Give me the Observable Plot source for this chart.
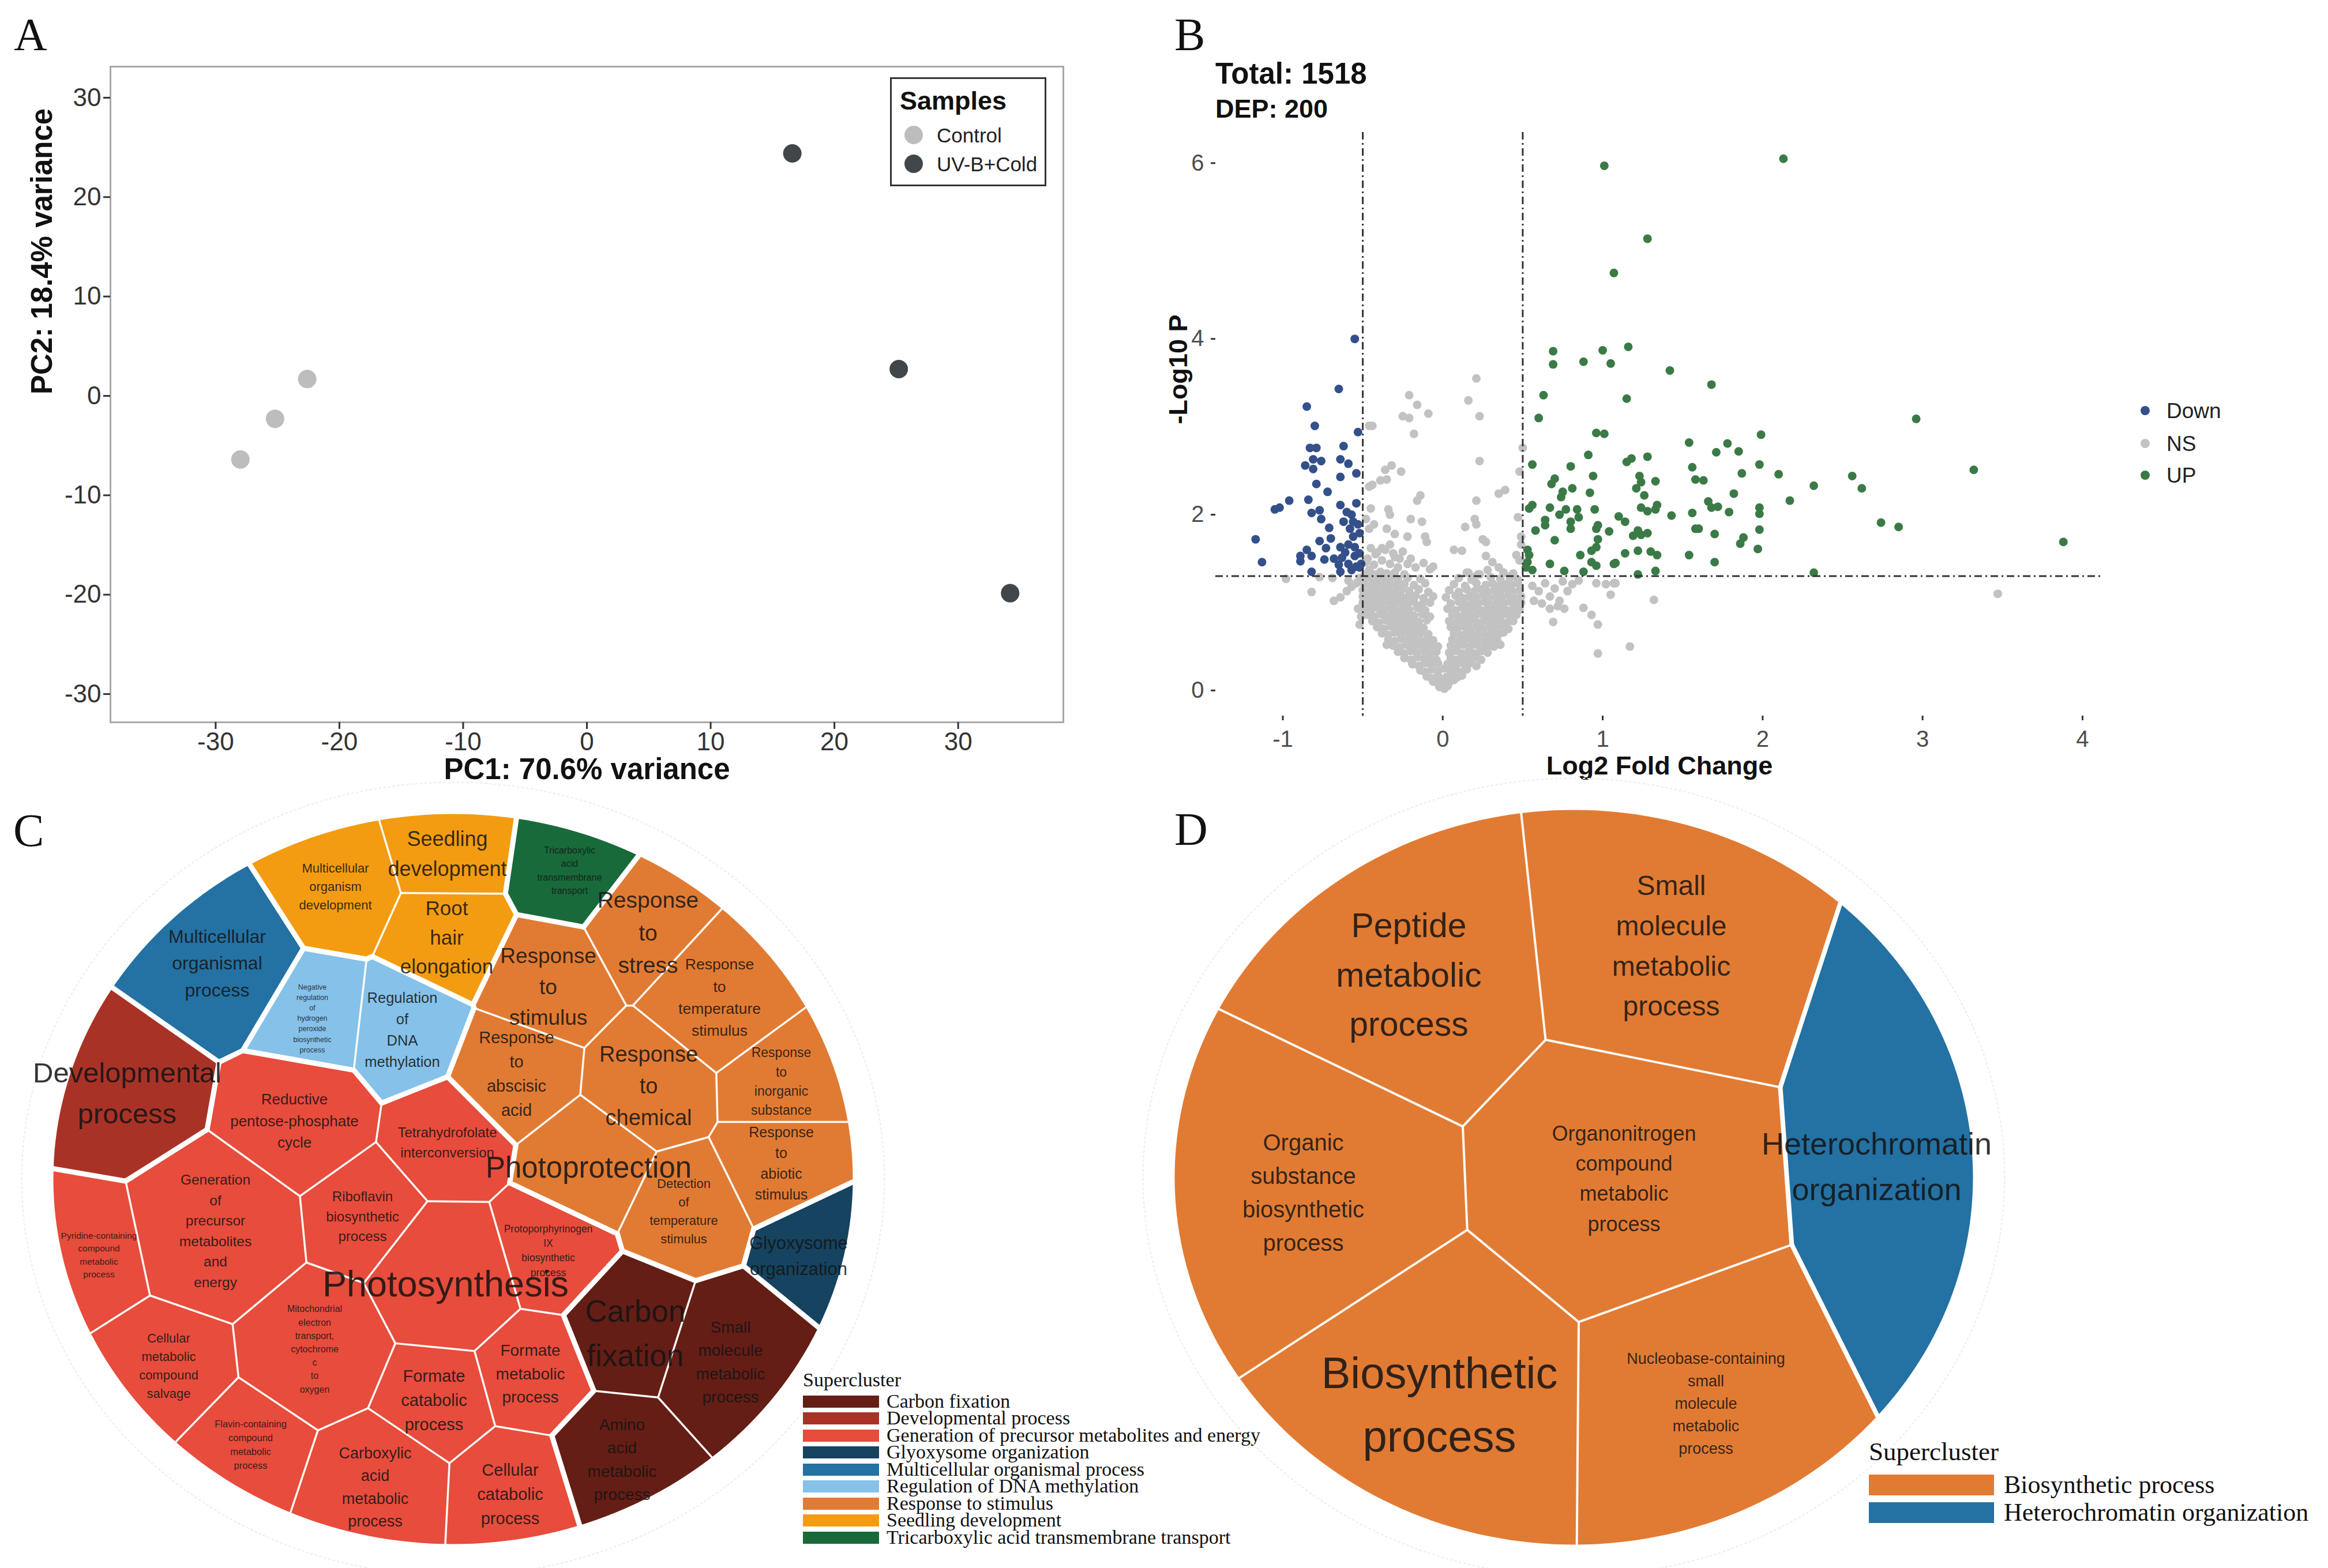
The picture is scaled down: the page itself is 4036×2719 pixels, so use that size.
<!DOCTYPE html>
<html><head><meta charset="utf-8">
<script src="https://cdn.jsdelivr.net/npm/d3@7"></script>
<script src="https://cdn.jsdelivr.net/npm/@observablehq/plot@0.6"></script>
<style>
html,body{margin:0;padding:0;background:#fff;}
#fig{position:relative;width:4036px;height:2719px;overflow:hidden;background:#fff;font-family:"Liberation Sans",Arial,sans-serif;}
.abs{position:absolute;white-space:nowrap;line-height:1;}
.serif{font-family:"Liberation Serif","Times New Roman",serif;}
.panel{position:absolute;}
</style></head><body><div id="fig"></div>
<script>
// ================= DATA =================
// Panel A: PCA
const pcaGroup = ["Control","Control","Control","UV-B+Cold","UV-B+Cold","UV-B+Cold"];
const pc1 = [-28.0,-25.2,-22.6,16.6,25.2,34.2];
const pc2 = [-6.4,-2.3,1.7,24.4,2.7,-19.85];
const sampleNames = ["Control","UV-B+Cold"];
const sampleColors = ["#bdbdbd","#41464b"];
const pcaXTicks = [-30,-20,-10,0,10,20,30];
const pcaYTicks = [-30,-20,-10,0,10,20,30];
const pcaXLabel = "PC1: 70.6% variance";
const pcaYLabel = "PC2: 18.4% variance";

// Panel B: volcano  [log2FC, -log10 P]
const downPts = [[-0.55,4.00],[-0.65,3.43],[-0.85,3.23],[-0.80,3.01],[-0.53,2.94],[-0.83,2.76],[-0.79,2.76],[-0.62,2.78],[-0.86,2.56],[-0.81,2.63],[-0.76,2.61],[-0.81,2.52],[-0.64,2.63],[-0.59,2.58],[-0.54,2.47],[-0.64,2.43],[-0.79,2.35],[-0.72,2.26],[-0.96,2.16],[-0.84,2.17],[-1.02,2.08],[-1.05,2.06],[-0.64,2.11],[-0.54,2.13],[-0.82,2.02],[-0.77,2.05],[-0.60,2.03],[-0.57,2.00],[-0.76,1.95],[-0.71,1.85],[-0.62,1.92],[-0.56,1.92],[-0.53,1.89],[-1.17,1.72],[-0.77,1.70],[-0.70,1.73],[-0.58,1.84],[-0.56,1.75],[-0.52,1.79],[-0.73,1.62],[-0.64,1.63],[-0.59,1.66],[-0.85,1.60],[-0.89,1.53],[-0.82,1.53],[-0.89,1.47],[-1.13,1.46],[-0.74,1.49],[-0.68,1.50],[-0.63,1.51],[-0.55,1.53],[-0.52,1.56],[-0.65,1.43],[-0.59,1.44],[-0.54,1.41],[-0.82,1.35],[-0.64,1.35],[-0.57,1.37],[-0.52,1.40],[-0.51,1.44],[-0.61,1.57],[-0.55,1.63]];
const upPts = [[0.69,3.86],[0.69,3.71],[0.88,3.74],[1.00,3.87],[1.05,3.72],[0.63,3.36],[0.60,3.10],[0.96,2.93],[1.01,2.92],[0.91,2.68],[0.56,2.57],[0.80,2.55],[0.94,2.44],[0.70,2.41],[0.68,2.35],[0.81,2.30],[0.75,2.26],[0.92,2.25],[0.74,2.20],[0.56,2.11],[0.54,2.07],[0.67,2.08],[0.77,2.06],[0.73,2.00],[0.84,2.06],[0.95,2.06],[0.64,1.94],[0.80,1.92],[0.85,1.97],[0.64,1.88],[0.80,1.84],[0.97,1.88],[0.96,1.84],[1.04,1.81],[0.58,1.82],[0.70,1.71],[0.97,1.72],[0.96,1.63],[0.93,1.59],[0.53,1.60],[0.54,1.54],[0.86,1.54],[0.53,1.46],[0.67,1.44],[0.93,1.46],[0.96,1.42],[1.07,1.44],[0.56,1.37],[0.76,1.36],[0.88,1.35],[0.52,1.40],
[1.16,3.91],[1.42,3.64],[1.68,3.48],[1.15,3.32],[2.96,3.09],[1.99,2.91],[1.54,2.82],[1.78,2.81],[1.71,2.71],[1.85,2.72],[1.28,2.66],[1.15,2.60],[1.18,2.64],[1.98,2.57],[1.56,2.54],[1.87,2.47],[2.10,2.46],[3.32,2.51],[2.56,2.44],[1.23,2.44],[1.33,2.38],[1.58,2.40],[1.63,2.39],[1.24,2.37],[1.21,2.30],[2.32,2.33],[2.62,2.30],[1.26,2.22],[1.82,2.24],[2.17,2.16],[1.66,2.15],[1.24,2.08],[1.34,2.11],[1.28,2.04],[1.33,2.06],[1.68,2.08],[1.72,2.09],[1.98,2.08],[1.98,2.01],[1.43,1.99],[1.56,2.02],[1.79,2.03],[1.10,1.98],[1.14,1.92],[2.74,1.91],[2.85,1.86],[1.58,1.84],[1.60,1.84],[1.98,1.83],[1.22,1.82],[1.28,1.79],[1.19,1.76],[1.24,1.77],[1.70,1.78],[1.88,1.74],[1.86,1.67],[1.97,1.61],[1.14,1.56],[1.22,1.59],[1.30,1.58],[1.34,1.54],[1.54,1.54],[1.70,1.46],[1.08,1.45],[1.22,1.32],[1.33,1.36],[2.32,1.34],
[1.01,5.97],[2.13,6.05],[1.28,5.14],[1.07,4.75],[3.88,1.69]];
const nsPts = [[0.21,3.55],[-0.21,3.36],[0.16,3.30],[-0.16,3.25],[-0.09,3.15],[-0.25,3.12],[-0.21,3.10],[0.23,3.12],[-0.18,2.92],[-0.46,3.01],[-0.44,3.01],[0.23,2.61],[0.50,2.76],[-0.32,2.56],[-0.36,2.51],[-0.26,2.49],[-0.39,2.39],[-0.35,2.40],[-0.46,2.32],[-0.44,2.34],[0.48,2.49],[0.39,2.28],[0.35,2.24],[-0.14,2.22],[-0.16,2.16],[0.21,2.16],[-0.45,2.07],[-0.34,2.06],[-0.33,2.00],[-0.20,1.95],[-0.13,1.92],[0.20,1.95],[0.21,1.89],[0.14,1.86],[0.47,1.97],[-0.48,1.95],[-0.43,1.89],[-0.46,1.84],[-0.35,1.84],[-0.30,1.78],[-0.22,1.75],[-0.11,1.75],[-0.10,1.69],[0.25,1.72],[0.27,1.69],[0.07,1.60],[0.12,1.59],[0.49,1.75],[0.49,1.66],[0.27,1.53],[0.31,1.46],[0.35,1.40],[0.28,1.37],[0.46,1.54],[0.48,1.48],[-0.06,1.41],[-0.41,1.57],[-0.36,1.60],[-0.31,1.56],[-0.27,1.50],[-0.22,1.44],[-0.17,1.40],[-0.38,1.48],[-0.33,1.44],[-0.28,1.40],[-0.43,1.43],[-0.48,1.46],[-0.46,1.37],[-0.49,1.31],[0.15,1.34],[0.19,1.29],[0.23,1.32],[0.38,1.34],[0.43,1.31],
[-0.98,1.27],[-0.82,1.12],[-0.77,1.29],[-0.69,1.28],[-0.68,1.02],[-0.64,1.06],[-0.60,1.13],[-0.57,1.18],[-0.54,1.22],[-0.59,1.25],[-0.52,1.28],[-0.52,0.75],[-0.53,0.93],[-0.51,0.84],
[0.56,1.19],[0.60,1.13],[0.64,1.22],[0.67,1.07],[0.70,1.16],[0.75,1.24],[0.78,1.13],[0.81,1.21],[0.85,1.25],[0.73,1.02],[0.72,0.96],[0.76,0.93],[0.69,0.78],[0.88,0.94],[0.93,0.86],[0.97,0.75],[0.96,1.22],[1.02,1.21],[1.07,1.22],[1.05,1.09],[0.97,0.42],[0.57,1.02],[0.62,0.99],[0.67,0.93],[1.17,0.50],[3.47,1.10],[1.32,1.03],[1.08,1.22],
[-0.47,1.50],[-0.42,1.55],[-0.38,1.62],[-0.30,1.52],[-0.25,1.58],[-0.20,1.50],[-0.45,1.62],[-0.33,1.66],[-0.12,1.45],[-0.08,1.38],
[-0.02,0.04],[0.01,0.02],[0.03,0.05],
[-0.06,0.10],[-0.03,0.08],[0.0,0.11],[0.04,0.09],[0.07,0.12],
[-0.10,0.16],[-0.07,0.14],[-0.03,0.17],[0.02,0.15],[0.05,0.18],[0.09,0.15],[0.12,0.17],
[-0.14,0.23],[-0.11,0.21],[-0.07,0.24],[-0.03,0.22],[0.01,0.25],[0.05,0.22],[0.08,0.24],[0.12,0.21],[0.15,0.24],
[-0.19,0.30],[-0.15,0.28],[-0.11,0.31],[-0.07,0.29],[-0.03,0.31],[0.03,0.30],[0.07,0.28],[0.10,0.31],[0.14,0.29],[0.18,0.31],[0.21,0.28],
[-0.24,0.37],[-0.20,0.35],[-0.16,0.38],[-0.12,0.36],[-0.08,0.38],[-0.04,0.35],[0.05,0.37],[0.09,0.35],[0.13,0.38],[0.17,0.36],[0.21,0.38],[0.24,0.35],
[-0.28,0.44],[-0.24,0.42],[-0.20,0.45],[-0.16,0.43],[-0.12,0.45],[-0.08,0.42],[-0.04,0.44],[0.04,0.43],[0.08,0.45],[0.12,0.42],[0.16,0.44],[0.20,0.42],[0.24,0.45],[0.28,0.43],
[-0.35,0.52],[-0.31,0.51],[-0.27,0.49],[-0.23,0.52],[-0.19,0.50],[-0.15,0.52],[-0.11,0.49],[-0.07,0.51],[-0.03,0.50],[0.05,0.51],[0.09,0.49],[0.13,0.52],[0.17,0.50],[0.21,0.52],[0.25,0.49],[0.29,0.51],[0.32,0.50],[0.36,0.52],
[-0.34,0.58],[-0.30,0.56],[-0.26,0.59],[-0.22,0.57],[-0.18,0.59],[-0.14,0.56],[-0.10,0.58],[-0.06,0.57],[0.06,0.58],[0.10,0.56],[0.14,0.59],[0.18,0.57],[0.22,0.59],[0.26,0.56],[0.30,0.58],[0.34,0.57],
[-0.38,0.65],[-0.34,0.63],[-0.30,0.66],[-0.26,0.64],[-0.22,0.66],[-0.18,0.63],[-0.14,0.65],[-0.09,0.64],[0.07,0.65],[0.11,0.63],[0.15,0.66],[0.19,0.64],[0.23,0.66],[0.27,0.63],[0.31,0.65],[0.35,0.64],[0.38,0.66],
[-0.41,0.72],[-0.37,0.70],[-0.33,0.73],[-0.29,0.71],[-0.25,0.73],[-0.21,0.70],[-0.17,0.72],[-0.12,0.71],[0.05,0.72],[0.09,0.70],[0.13,0.73],[0.17,0.71],[0.21,0.73],[0.25,0.70],[0.29,0.72],[0.33,0.71],[0.37,0.73],[0.41,0.70],
[-0.44,0.79],[-0.40,0.77],[-0.36,0.80],[-0.32,0.78],[-0.28,0.80],[-0.24,0.77],[-0.20,0.79],[-0.15,0.78],[-0.10,0.80],[0.04,0.79],[0.08,0.77],[0.12,0.80],[0.16,0.78],[0.20,0.80],[0.24,0.77],[0.28,0.79],[0.32,0.78],[0.36,0.80],[0.40,0.77],[0.44,0.79],
[-0.47,0.86],[-0.43,0.84],[-0.39,0.87],[-0.35,0.85],[-0.31,0.87],[-0.27,0.84],[-0.23,0.86],[-0.18,0.85],[-0.13,0.87],[-0.08,0.84],[0.06,0.86],[0.10,0.84],[0.14,0.87],[0.18,0.85],[0.22,0.87],[0.26,0.84],[0.30,0.86],[0.34,0.85],[0.38,0.87],[0.42,0.84],[0.46,0.86],
[-0.49,0.93],[-0.45,0.91],[-0.41,0.94],[-0.37,0.92],[-0.33,0.94],[-0.29,0.91],[-0.25,0.93],[-0.21,0.92],[-0.16,0.94],[-0.11,0.91],[0.03,0.93],[0.08,0.91],[0.12,0.94],[0.16,0.92],[0.20,0.94],[0.24,0.91],[0.28,0.93],[0.32,0.92],[0.36,0.94],[0.40,0.91],[0.44,0.93],[0.48,0.92],
[-0.50,1.00],[-0.46,0.98],[-0.42,1.01],[-0.38,0.99],[-0.34,1.01],[-0.30,0.98],[-0.26,1.00],[-0.22,0.99],[-0.18,1.01],[-0.13,0.98],[-0.08,1.00],[0.05,0.99],[0.10,1.01],[0.14,0.98],[0.18,1.00],[0.22,0.99],[0.26,1.01],[0.30,0.98],[0.34,1.00],[0.38,0.99],[0.42,1.01],[0.46,0.98],[0.49,1.00],
[-0.50,1.07],[-0.46,1.05],[-0.42,1.08],[-0.38,1.06],[-0.34,1.08],[-0.30,1.05],[-0.26,1.07],[-0.22,1.06],[-0.17,1.08],[-0.12,1.05],[-0.06,1.07],[0.02,1.06],[0.08,1.08],[0.13,1.05],[0.17,1.07],[0.21,1.06],[0.25,1.08],[0.29,1.05],[0.33,1.07],[0.37,1.06],[0.41,1.08],[0.45,1.05],[0.49,1.07],
[-0.50,1.14],[-0.46,1.12],[-0.42,1.15],[-0.38,1.13],[-0.34,1.15],[-0.30,1.12],[-0.26,1.14],[-0.21,1.13],[-0.15,1.15],[-0.09,1.12],[0.04,1.14],[0.10,1.12],[0.15,1.15],[0.20,1.13],[0.24,1.15],[0.28,1.12],[0.32,1.14],[0.36,1.13],[0.40,1.15],[0.44,1.12],[0.48,1.14],
[-0.49,1.21],[-0.45,1.19],[-0.41,1.22],[-0.37,1.20],[-0.33,1.22],[-0.29,1.19],[-0.24,1.21],[-0.18,1.20],[-0.11,1.22],[0.07,1.21],[0.14,1.19],[0.21,1.22],[0.27,1.20],[0.31,1.22],[0.35,1.19],[0.39,1.21],[0.43,1.20],[0.47,1.22],
[-0.48,1.28],[-0.44,1.26],[-0.40,1.29],[-0.36,1.27],[-0.32,1.29],[-0.28,1.26],[-0.22,1.28],[-0.14,1.27],[0.10,1.28],[0.18,1.26],[0.30,1.29],[0.36,1.27],[0.42,1.28],[0.47,1.26],
[-0.47,1.34],[-0.43,1.32],[-0.39,1.35],[-0.35,1.33],[-0.30,1.34],[-0.24,1.32],[0.16,1.34],[0.22,1.32],[0.38,1.34],[0.44,1.33]];
const volXTicks = [-1,0,1,2,3,4];
const volYTicks = [0,2,4,6];
const fcCut = [-0.5,0.5];
const pCut = 1.301;
const volClasses = ["Down","NS","UP"];
const volColors = ["#34508a","#c2c2c2","#3b7a47"];
const volTotal = "Total: 1518", volDEP = "DEP: 200";

// Panel C: Voronoi treemap (biological process)
const cSuper = ["Carbon fixation","Developmental process","Generation of precursor metabolites and energy","Glyoxysome organization","Multicellular organismal process","Regulation of DNA methylation","Response to stimulus","Seedling development","Tricarboxylic acid transmembrane transport"];
const cSuperColors = ["#641e16","#a93226","#e74c3c","#154360","#2471a3","#85c1e9","#e17b33","#f39c12","#186a3b"];
const cNames = ["Multicellular organismal process","Multicellular organism development","Seedling development","Root hair elongation","Negative regulation of hydrogen peroxide biosynthetic process","Regulation of DNA methylation","Developmental process","Reductive pentose-phosphate cycle","Tetrahydrofolate interconversion","Generation of precursor metabolites and energy","Riboflavin biosynthetic process","Pyridine-containing compound metabolic process","Photosynthesis","Protoporphyrinogen IX biosynthetic process","Mitochondrial electron transport, cytochrome c to oxygen","Cellular metabolic compound salvage","Formate catabolic process","Formate metabolic process","Flavin-containing compound metabolic process","Carboxylic acid metabolic process","Cellular catabolic process","Tricarboxylic acid transmembrane transport","Response to stress","Response to stimulus","Response to temperature stimulus","Response to abscisic acid","Response to chemical","Response to inorganic substance","Response to abiotic stimulus","Photoprotection","Detection of temperature stimulus","Glyoxysome organization","Carbon fixation","Small molecule metabolic process","Amino acid metabolic process"];
const cGroup = [4,7,7,7,5,5,1,2,2,2,2,2,2,2,2,2,2,2,2,2,2,8,6,6,6,6,6,6,6,6,6,3,0,0,0];
const cX = [376,581,775,774,541,697,220,510,775,373,628,171,772,950,545,292,752,919,434,650,884,987,1123,950,1247,895,1124,1354,1354,1020,1185,1384,1101,1266,1078];
const cY = [1666,1534,1476,1621,1764,1782,1889,1940,1978,2131,2106,2174,2218,2166,2337,2365,2424,2378,2503,2575,2587,1507,1612,1706,1726,1858,1878,1872,2014,2018,2097,2174,2305,2358,2527];
const cSize = [138,106,99,99,104,99,126,123,94,148,100,94,127,98,126,105,99,94,98,120,100,92,102,107,124,104,107,101,98,108,98,98,110,129,107];
const cFont = [32,22,36,35,12.5,25.5,49,26,24,24.5,24,15.5,63,17.5,16,22,29,28,16.5,27,29,16,39,37,26.5,29,38,23,25,51,22,31,53,28,28];
// cells whose generating site differs from the label position: [siteX, siteY, size]
const cSiteShift = {"Glyoxysome organization": [1425, 2164, 95]};

// Panel D
const dSuper = ["Biosynthetic process","Heterochromatin organization"];
const dSuperColors = ["#e17b33","#2471a3"];
const dNames = ["Peptide metabolic process","Small molecule metabolic process","Organic substance biosynthetic process","Organonitrogen compound metabolic process","Biosynthetic process","Nucleobase-containing small molecule metabolic process","Heterochromatin organization"];
const dGroup = [0,0,0,0,0,0,1];
const dX = [2442,2897,2259,2815,2495,2957,3253];
const dY = [1683,1634,2063,2039,2426,2430,2016];
const dSize = [242,253,256,250,262,245,150];
const dFont = [59,48,40,36,76,27,54];
const dSiteShift = {"Heterochromatin organization": [3896, 1960, 792]};

// ================= HELPERS =================
const fig = document.getElementById("fig");
const SANS = '"Liberation Sans", Arial, Helvetica, sans-serif';
function panel(svg, left, top, w, h) {
  const d = document.createElement("div");
  d.className = "panel";
  d.style.left = left + "px"; d.style.top = top + "px";
  d.style.width = w + "px"; d.style.height = h + "px";
  d.appendChild(svg); fig.appendChild(d);
}
function txt(s, left, cy, size, o = {}) {
  const d = document.createElement("div");
  d.className = "abs" + (o.serif ? " serif" : "");
  d.textContent = s;
  d.style.fontSize = size + "px";
  d.style.left = left + "px";
  d.style.top = (cy - (o.serif ? 0.5065 : 0.49) * size) + "px";
  if (o.bold) d.style.fontWeight = "bold";
  d.style.color = o.color || "#111";
  fig.appendChild(d); return d;
}
function rect(left, top, w, h, css) {
  const d = document.createElement("div");
  d.style.position = "absolute";
  d.style.left = left + "px"; d.style.top = top + "px";
  d.style.width = w + "px"; d.style.height = h + "px";
  d.style.boxSizing = "border-box";
  Object.assign(d.style, css);
  fig.appendChild(d); return d;
}
function clipHalf(poly, a, b, c, lab) {
  const out = [], n = poly.length;
  for (let k = 0; k < n; k++) {
    const P = poly[k], Q = poly[(k + 1) % n];
    const fP = a * P.x + b * P.y - c, fQ = a * Q.x + b * Q.y - c;
    const inP = fP <= 0, inQ = fQ <= 0;
    if (inP) out.push(P);
    if (inP !== inQ) {
      const t = fP / (fP - fQ);
      out.push({x: P.x + t * (Q.x - P.x), y: P.y + t * (Q.y - P.y), e: inP ? lab : P.e});
    }
  }
  return out;
}
function treemap(cfg) {
  const {names, group, xs, ys, size, font, colors, shift, cx, cy, rx, ry, left, top, width, height, thin, thick} = cfg;
  const N = 240;
  const ell = d3.range(N).map(k => { const t = 2 * Math.PI * k / N; return {x: cx + rx * Math.cos(t), y: cy + ry * Math.sin(t), e: -1}; });
  const faint = d3.range(N + 1).map(k => { const t = 2 * Math.PI * k / N; return {x: cx + (rx + 55) * Math.cos(t), y: cy + (ry + 55) * Math.sin(t)}; });
  const sites = names.map((n, i) => {
    const s = shift[n];
    return s ? {x: s[0], y: s[1], w: s[2] * s[2]} : {x: xs[i], y: ys[i], w: size[i] * size[i]};
  });
  const cells = sites.map((s, i) => {
    let poly = ell.slice();
    sites.forEach((t, j) => {
      if (j === i || poly.length === 0) return;
      const a = 2 * (t.x - s.x), b = 2 * (t.y - s.y);
      const c = (t.x * t.x + t.y * t.y) - (s.x * s.x + s.y * s.y) - t.w + s.w;
      poly = clipHalf(poly, a, b, c, j);
    });
    return poly;
  });
  const rows = [], thinE = [], thickE = [];
  cells.forEach((poly, i) => {
    poly.forEach(p => rows.push({id: i, x: p.x, y: p.y, color: colors[group[i]]}));
    poly.forEach((p, k) => {
      const q = poly[(k + 1) % poly.length], j = p.e;
      if (j > i) (group[i] === group[j] ? thinE : thickE).push({x1: p.x, y1: p.y, x2: q.x, y2: q.y});
    });
  });
  const labels = names.map((n, i) => ({x: xs[i], y: ys[i], text: n.split(" ").join("\n"), fs: font[i]}));
  return Plot.plot({
    width, height, margin: 0,
    x: {domain: [left, left + width], range: [0, width], axis: null},
    y: {domain: [top, top + height], range: [0, height], axis: null},
    color: {type: "identity"},
    style: {fontFamily: SANS, background: "transparent", overflow: "visible"},
    marks: [
      Plot.line(faint, {x: "x", y: "y", stroke: "#ececec", strokeWidth: 2, strokeDasharray: "3,5"}),
      Plot.line(rows, {x: "x", y: "y", z: "id", fill: "color", stroke: "none"}),
      Plot.link(thinE, {x1: "x1", y1: "y1", x2: "x2", y2: "y2", stroke: "#fdfaf5", strokeWidth: thin, strokeLinecap: "round"}),
      Plot.link(thickE, {x1: "x1", y1: "y1", x2: "x2", y2: "y2", stroke: "#ffffff", strokeWidth: thick, strokeLinecap: "round"}),
      Plot.text(labels, {x: "x", y: "y", text: "text", fontSize: d => d.fs, lineHeight: 1.45, fill: "#141414", fillOpacity: 0.86})
    ]
  });
}
const hy = d => String(d);

// ================= PANEL A =================
const pca = pc1.map((v, i) => ({pc1: v, pc2: pc2[i], group: pcaGroup[i]}));
panel(Plot.plot({
  width: 1950, height: 1380,
  marginLeft: 191, marginRight: 107, marginTop: 115, marginBottom: 128,
  x: {domain: [-38.5, 38.5]}, y: {domain: [-32.84, 33.13]},
  style: {fontFamily: SANS, background: "transparent", overflow: "visible", color: "#333"},
  marks: [
    Plot.frame({stroke: "#a8a8a8", strokeWidth: 3}),
    Plot.axisX(pcaXTicks, {tickSize: 12, tickPadding: 5, fontSize: 44, tickFormat: hy, label: null, strokeWidth: 3}),
    Plot.axisY(pcaYTicks, {tickSize: 12, tickPadding: 4, fontSize: 44, tickFormat: hy, label: null, strokeWidth: 3}),
    Plot.dot(pca, {x: "pc1", y: "pc2", r: 16, fill: d => sampleColors[sampleNames.indexOf(d.group)]}),
    Plot.text([pcaXLabel], {frameAnchor: "bottom", dy: 98, text: d => d, fontSize: 51, fontWeight: "bold", fill: "#111"}),
    Plot.text([pcaYLabel], {frameAnchor: "left", dx: -118, rotate: -90, text: d => d, fontSize: 51, fontWeight: "bold", fill: "#111"})
  ]
}), 0, 0, 1950, 1380);
// legend A
rect(1543, 134, 271, 189, {border: "3px solid #333", background: "#fff"});
txt("Samples", 1560, 174, 45, {bold: true});
sampleNames.forEach((s, i) => {
  const cyy = 234 + 50 * i;
  rect(1584 - 16, cyy - 16, 32, 32, {borderRadius: "50%", background: sampleColors[i]});
  txt(s, 1624, cyy, 35, {color: "#222"});
});

// ================= PANEL B =================
const toRows = (arr, cls) => arr.map(([x, y]) => ({fc: x, p: y, cls}));
panel(Plot.plot({
  width: 2086, height: 1380,
  marginLeft: 157, marginRight: 390, marginTop: 229, marginBottom: 139,
  x: {domain: [-1.42, 4.13]}, y: {domain: [-0.29, 6.35]},
  style: {fontFamily: SANS, background: "transparent", overflow: "visible", color: "#333"},
  marks: [
    Plot.axisX(volXTicks, {tickSize: 8, tickPadding: 17, fontSize: 40, tickFormat: hy, label: null, line: true, strokeWidth: 3, stroke: "#333", fill: "#4d4d4d"}),
    Plot.axisY(volYTicks, {tickSize: 8, tickPadding: 12, fontSize: 40, tickFormat: hy, label: null, line: true, strokeWidth: 3, stroke: "#333", fill: "#4d4d4d"}),
    Plot.dot(toRows(nsPts, "NS"), {x: "fc", y: "p", r: 7.5, fill: volColors[1]}),
    Plot.dot(toRows(downPts, "Down"), {x: "fc", y: "p", r: 7.5, fill: volColors[0]}),
    Plot.dot(toRows(upPts, "UP"), {x: "fc", y: "p", r: 7.5, fill: volColors[2]}),
    Plot.ruleX(fcCut, {stroke: "#333", strokeWidth: 3, strokeDasharray: "13,6,3,6"}),
    Plot.ruleY([pCut], {stroke: "#333", strokeWidth: 3, strokeDasharray: "13,6,3,6"}),
    Plot.text(["Log2 Fold Change"], {frameAnchor: "bottom", dy: 101, text: d => d, fontSize: 45, fontWeight: "bold", fill: "#111"}),
    Plot.text(["-Log10 P"], {frameAnchor: "left", dx: -64, rotate: -90, text: d => d, fontSize: 45, fontWeight: "bold", fill: "#111"})
  ]
}), 1950, 0, 2086, 1380);
txt(volTotal, 2107, 127, 51, {bold: true});
txt(volDEP, 2107, 188, 45, {bold: true});
volClasses.forEach((c, i) => {
  const cyy = [712, 769, 824][i];
  rect(3719 - 8, cyy - 8, 16, 16, {borderRadius: "50%", background: volColors[i]});
  txt(c, 3756, cyy, 37, {color: "#222"});
});

// ================= PANEL C =================
panel(treemap({names: cNames, group: cGroup, xs: cX, ys: cY, size: cSize, font: cFont, colors: cSuperColors, shift: cSiteShift,
  cx: 785, cy: 2044, rx: 693, ry: 633, left: 0, top: 1380, width: 1950, height: 1339, thin: 3.5, thick: 9}), 0, 1380, 1950, 1339);
txt("Supercluster", 1392, 2393, 34, {serif: true});
cSuper.forEach((s, i) => {
  const cyy = 2430 + 29.5 * i;
  rect(1392, cyy - 10.5, 132, 21, {background: cSuperColors[i]});
  txt(s, 1537, cyy, 34, {serif: true});
});

// ================= PANEL D =================
panel(treemap({names: dNames, group: dGroup, xs: dX, ys: dY, size: dSize, font: dFont, colors: dSuperColors, shift: dSiteShift,
  cx: 2728, cy: 2041, rx: 692, ry: 637, left: 1950, top: 1380, width: 2086, height: 1339, thin: 4, thick: 8}), 1950, 1380, 2086, 1339);
txt("Supercluster", 3240, 2518, 45, {serif: true});
dSuper.forEach((s, i) => {
  const cyy = [2575, 2623][i];
  rect(3240, cyy - 18, 217, 36, {background: dSuperColors[i]});
  txt(s, 3474, cyy, 44, {serif: true});
});

// Panel letters
[["A", 24, 60.5], ["B", 2036, 60.5], ["C", 23, 1440.5], ["D", 2036, 1438.5]].forEach(([l, x, cyy]) => txt(l, x, cyy, 80, {serif: true}));
</script></body></html>
